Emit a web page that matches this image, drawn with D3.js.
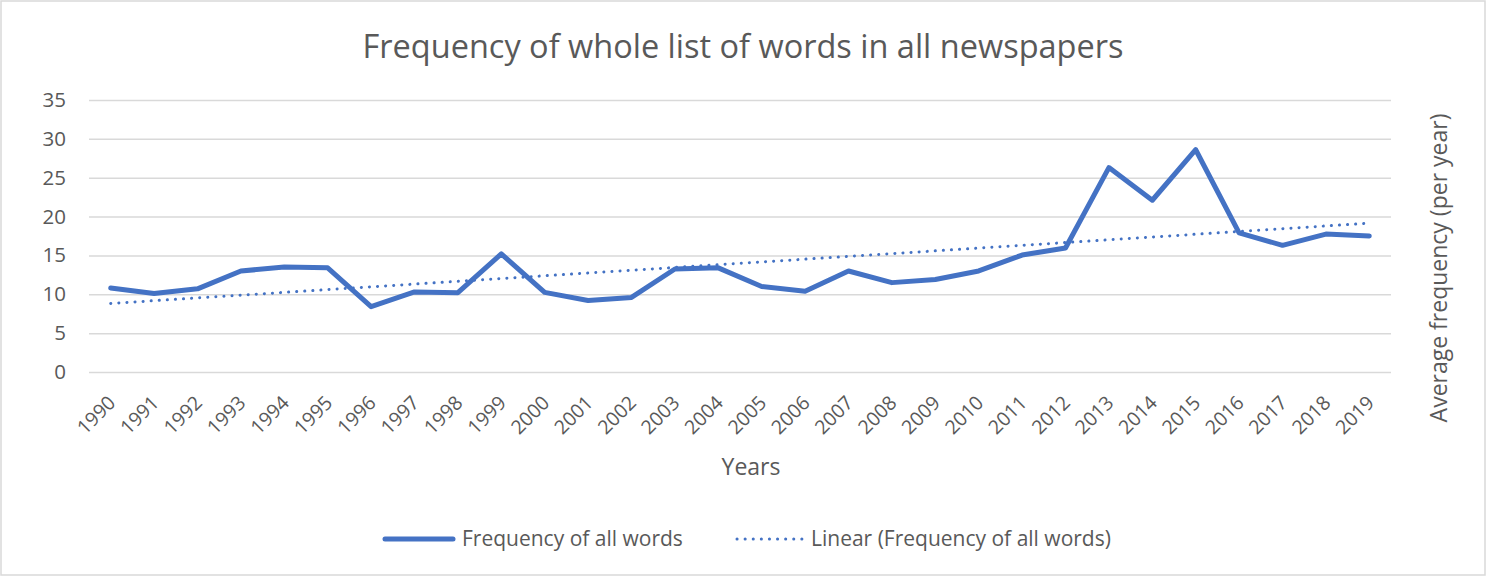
<!DOCTYPE html>
<html>
<head>
<meta charset="utf-8">
<script src="https://cdn.jsdelivr.net/npm/d3@7"></script>
<style>
  html, body { margin: 0; padding: 0; background: #fff; }
  svg { display: block; font-family: "Open Sans", "Noto Sans", sans-serif; }
</style>
</head>
<body>
<svg id="chart" width="1486" height="576"></svg>
<script>
const years = ["1990","1991","1992","1993","1994","1995","1996","1997","1998","1999",
               "2000","2001","2002","2003","2004","2005","2006","2007","2008","2009",
               "2010","2011","2012","2013","2014","2015","2016","2017","2018","2019"];
const frequency = [10.8, 10.1, 10.7, 13.0, 13.5, 13.4, 8.4, 10.3, 10.2, 15.2,
                   10.25, 9.2, 9.6, 13.25, 13.4, 11.0, 10.4, 13.0, 11.5, 11.9,
                   13.0, 15.05, 15.95, 26.3, 22.1, 28.6, 17.9, 16.3, 17.75, 17.5];
const yTicks = [0, 5, 10, 15, 20, 25, 30, 35];
const titleText = "Frequency of whole list of words in all newspapers";
const xTitle = "Years";
const yTitle = "Average frequency (per year)";
const seriesName = "Frequency of all words";
const trendName = "Linear (Frequency of all words)";

const W = 1486, H = 576;
const plot = { left: 89, right: 1391, top: 100, bottom: 372 };
const blue = "#4472c4", textCol = "#595959", gridCol = "#d9d9d9";

const svg = d3.select("#chart");
svg.append("rect").attr("x", 1).attr("y", 1).attr("width", W - 2).attr("height", H - 2)
  .attr("fill", "#fff").attr("stroke", gridCol).attr("stroke-width", 1.5);

const x = d3.scaleBand().domain(years).range([plot.left, plot.right]);
const cx = d => x(d) + x.bandwidth() / 2;
const y = d3.scaleLinear().domain([0, 35]).range([plot.bottom, plot.top]);

// gridlines + y labels via axis
const yAxis = d3.axisLeft(y).tickValues(yTicks).tickSize(-(plot.right - plot.left)).tickPadding(23);
const gy = svg.append("g").attr("transform", `translate(${plot.left},0)`).call(yAxis);
gy.select(".domain").remove();
gy.selectAll(".tick line").attr("stroke", gridCol).attr("stroke-width", 1.5);
gy.selectAll(".tick text").attr("fill", textCol).style("font-size", "20.5px")
  .style("font-family", '"Open Sans", sans-serif');

// x labels
const xAxis = d3.axisBottom(x).tickSize(0).tickPadding(0);
const gx = svg.append("g").attr("transform", `translate(0,${plot.bottom})`).call(xAxis);
gx.select(".domain").remove();
gx.selectAll(".tick text")
  .attr("fill", textCol).style("font-size", "19.5px")
  .style("font-family", '"Open Sans", sans-serif')
  .attr("text-anchor", "end")
  .attr("y", 0).attr("dy", 0)
  .attr("transform", "translate(6,32) rotate(-45)");

// trend line (least squares of the series)
const n = frequency.length;
const idx = d3.range(n);
const mx = d3.mean(idx), my = d3.mean(frequency);
const slope = d3.sum(idx, i => (i - mx) * (frequency[i] - my)) / d3.sum(idx, i => (i - mx) ** 2);
const icpt = my - slope * mx;
svg.append("line")
  .attr("x1", cx(years[0])).attr("y1", y(icpt))
  .attr("x2", cx(years[n - 1])).attr("y2", y(icpt + slope * (n - 1)))
  .attr("stroke", blue).attr("stroke-width", 3).attr("stroke-linecap", "round")
  .attr("stroke-dasharray", "0.1 8");

// main line
const line = d3.line().x((d, i) => cx(years[i])).y(d => y(d));
svg.append("path").datum(frequency).attr("d", line)
  .attr("fill", "none").attr("stroke", blue).attr("stroke-width", 5)
  .attr("stroke-linejoin", "round").attr("stroke-linecap", "round");

// titles
svg.append("text").attr("x", 743).attr("y", 58).attr("text-anchor", "middle")
  .attr("fill", textCol).style("font-size", "32.5px").text(titleText);
svg.append("text").attr("x", 751).attr("y", 475).attr("text-anchor", "middle")
  .attr("fill", textCol).style("font-size", "23px").text(xTitle);
svg.append("text").attr("transform", "translate(1447,268) rotate(-90)").attr("text-anchor", "middle")
  .attr("fill", textCol).style("font-size", "23px").text(yTitle);

// legend
const ly = 539;
const lg = svg.append("g");
lg.append("line").attr("x1", 385).attr("x2", 453).attr("y1", ly).attr("y2", ly)
  .attr("stroke", blue).attr("stroke-width", 5).attr("stroke-linecap", "round");
lg.append("text").attr("x", 462).attr("y", ly + 7).attr("fill", textCol)
  .style("font-size", "21px").text(seriesName);
lg.append("line").attr("x1", 737).attr("x2", 802).attr("y1", ly).attr("y2", ly)
  .attr("stroke", blue).attr("stroke-width", 3).attr("stroke-linecap", "round")
  .attr("stroke-dasharray", "0.1 8");
lg.append("text").attr("x", 811).attr("y", ly + 7).attr("fill", textCol)
  .style("font-size", "21px").text(trendName);
</script>
</body>
</html>
